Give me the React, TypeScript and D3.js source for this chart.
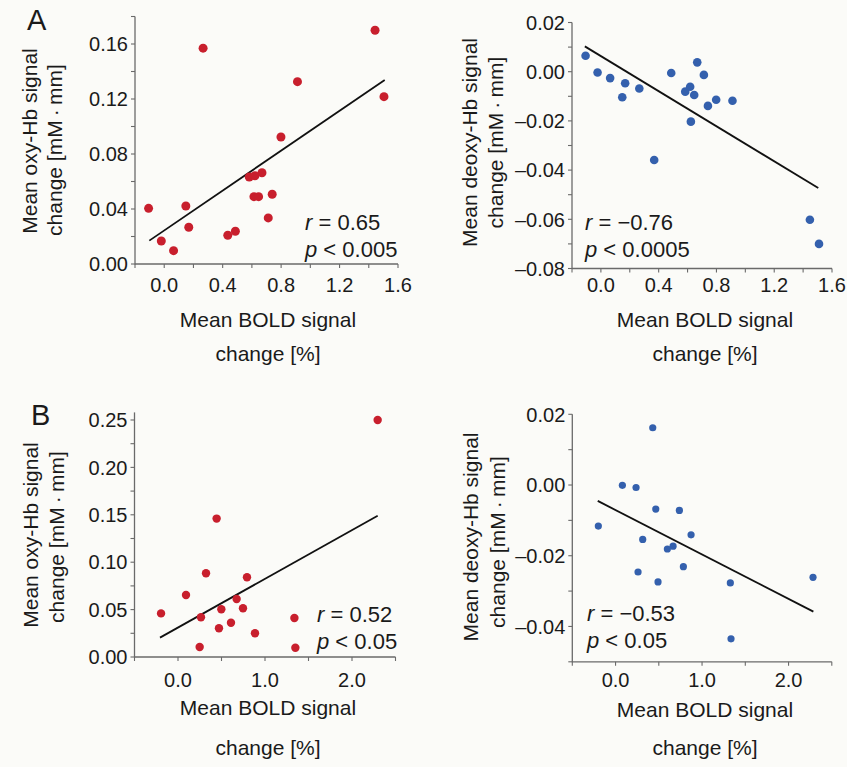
import React from "react";
import * as d3 from "d3";

// ---------- DATA ----------
// Panel A (left): oxy-Hb vs BOLD
const aOxyX = [-0.107, -0.02, 0.064, 0.148, 0.168, 0.266, 0.435, 0.487, 0.582, 0.621, 0.669, 0.614, 0.646, 0.739, 0.712, 0.799, 0.912, 1.443, 1.504];
const aOxyY = [0.0405, 0.0167, 0.0097, 0.0422, 0.0267, 0.157, 0.0209, 0.0238, 0.0633, 0.0642, 0.0664, 0.049, 0.049, 0.0507, 0.0335, 0.0924, 0.1326, 0.170, 0.1217];
const aOxyFitX = [-0.102, 1.509];
const aOxyFitY = [0.017, 0.1338];

// Panel A (right): deoxy-Hb vs BOLD
const aDeoxyX = [-0.106, -0.023, 0.064, 0.148, 0.168, 0.266, 0.369, 0.487, 0.584, 0.618, 0.646, 0.623, 0.667, 0.713, 0.741, 0.798, 0.911, 1.447, 1.51];
const aDeoxyY = [0.0065, -0.0003, -0.0026, -0.0104, -0.0047, -0.0068, -0.0359, -0.0005, -0.0081, -0.0061, -0.0095, -0.0203, 0.0038, -0.0013, -0.0139, -0.0114, -0.0118, -0.0602, -0.070];
const aDeoxyFitX = [-0.111, 1.505];
const aDeoxyFitY = [0.0103, -0.0473];

// Panel B (left): oxy-Hb vs BOLD
const bOxyX = [-0.195, 0.092, 0.249, 0.264, 0.322, 0.444, 0.471, 0.498, 0.609, 0.674, 0.747, 0.793, 0.885, 1.338, 1.349, 2.295];
const bOxyY = [0.046, 0.0654, 0.0106, 0.0419, 0.0883, 0.146, 0.0303, 0.0503, 0.0362, 0.0612, 0.0514, 0.0841, 0.025, 0.0411, 0.0098, 0.25];
const bOxyFitX = [-0.207, 2.295];
const bOxyFitY = [0.0204, 0.149];

// Panel B (right): deoxy-Hb vs BOLD
const bDeoxyX = [-0.199, 0.079, 0.237, 0.43, 0.465, 0.314, 0.26, 0.491, 0.599, 0.665, 0.738, 0.784, 0.873, 1.327, 1.335, 2.283];
const bDeoxyY = [-0.0116, -0.0001, -0.0007, 0.0162, -0.0068, -0.0154, -0.0246, -0.0274, -0.0181, -0.0173, -0.0072, -0.0231, -0.0141, -0.0277, -0.0435, -0.0261];
const bDeoxyFitX = [-0.206, 2.287];
const bDeoxyFitY = [-0.0045, -0.0358];

// Ticks
const xMajorA = [0.0, 0.4, 0.8, 1.2, 1.6];
const xMinorA = [-0.2, 0.0, 0.2, 0.4, 0.6, 0.8, 1.0, 1.2, 1.4, 1.6];
const xMajorB = [0.0, 1.0, 2.0];
const xMinorB = [-0.5, 0.0, 0.5, 1.0, 1.5, 2.0, 2.5];
const yMajorAOxy = [0.0, 0.04, 0.08, 0.12, 0.16];
const yMinorAOxy = [0.0, 0.02, 0.04, 0.06, 0.08, 0.1, 0.12, 0.14, 0.16, 0.18];
const yMajorADeoxy = [-0.08, -0.06, -0.04, -0.02, 0.0, 0.02];
const yMinorADeoxy = [-0.08, -0.07, -0.06, -0.05, -0.04, -0.03, -0.02, -0.01, 0.0, 0.01, 0.02];
const yMajorBOxy = [0.0, 0.05, 0.1, 0.15, 0.2, 0.25];
const yMinorBOxy = [0.0, 0.025, 0.05, 0.075, 0.1, 0.125, 0.15, 0.175, 0.2, 0.225, 0.25];
const yMajorBDeoxy = [-0.04, -0.02, 0.0, 0.02];
const yMinorBDeoxy = [-0.05, -0.04, -0.03, -0.02, -0.01, 0.0, 0.01, 0.02];

const statsR = ["0.65", "\u22120.76", "0.52", "\u22120.53"];
const statsP = ["0.005", "0.0005", "0.05", "0.05"];
const yTitle1 = ["Mean oxy-Hb signal", "Mean deoxy-Hb signal", "Mean oxy-Hb signal", "Mean deoxy-Hb signal"];
const yTitle2 = "change [mM\u2009\u00b7\u2009mm]";
const xTitle1 = "Mean BOLD signal";
const xTitle2 = "change [%]";

// ---------- STYLE ----------
const RED = "#c81f2d";
const BLUE = "#3460ad";
const INK = "#1a1a1a";
const AXIS = "#6a6a6a";
const FONT = "'Liberation Sans', Arial, Helvetica, sans-serif";

const fmt = (d: number, p: number) => {
  const s = d3.format(`.${p}f`)(Math.abs(d));
  return d < -1e-9 ? "\u2013" + s : s;
};

type PanelProps = {
  xs: number[]; ys: number[]; fitX: number[]; fitY: number[];
  xDomain: [number, number]; xRange: [number, number];
  yDomain: [number, number]; yRange: [number, number];
  xMajor: number[]; xMinor: number[]; yMajor: number[]; yMinor: number[];
  xDec: number; yDec: number;
  color: string; r: number;
  idx: number;
  statsX: number; statsY: number;
  yT1: [number, number]; yT2: [number, number];
  xTitleX: number; xTitleY1: number; xTitleY2: number;
  xTickY: number;
};

function Panel(p: PanelProps) {
  const x = d3.scaleLinear().domain(p.xDomain).range(p.xRange);
  const y = d3.scaleLinear().domain(p.yDomain).range(p.yRange);
  const x0 = p.xRange[0];
  const y0 = p.yRange[0];
  const line = d3.line<number>().x((_, i) => x(p.fitX[i])).y((d) => y(d));
  return (
    <g>
      {/* axes */}
      <line x1={x0} x2={x0} y1={p.yRange[1]} y2={y0 + 0.5} stroke={AXIS} strokeWidth={1.3} />
      <line x1={x0} x2={p.xRange[1]} y1={y0} y2={y0} stroke={AXIS} strokeWidth={1.3} />
      {p.yMinor.map((v, i) => (
        <line key={"ym" + i} x1={x0 - 4} x2={x0} y1={y(v)} y2={y(v)} stroke={AXIS} strokeWidth={1.1} />
      ))}
      {p.xMinor.map((v, i) => (
        <line key={"xm" + i} x1={x(v)} x2={x(v)} y1={y0} y2={y0 + 4} stroke={AXIS} strokeWidth={1.1} />
      ))}
      {p.yMajor.map((v, i) => (
        <text key={"yl" + i} x={x0 - 7} y={y(v)} dy="0.36em" textAnchor="end" fontSize={20} fill={INK}>
          {fmt(v, p.yDec)}
        </text>
      ))}
      {p.xMajor.map((v, i) => (
        <text key={"xl" + i} x={x(v)} y={p.xTickY} textAnchor="middle" fontSize={20} fill={INK}>
          {fmt(v, p.xDec)}
        </text>
      ))}
      {/* fit line */}
      <path d={line(p.fitY) || ""} stroke="#111" strokeWidth={1.8} fill="none" />
      {/* points */}
      {p.xs.map((v, i) => (
        <circle key={"pt" + i} cx={x(v)} cy={y(p.ys[i])} r={p.r} fill={p.color} />
      ))}
      {/* stats */}
      <text x={p.statsX} y={p.statsY} fontSize={22} fill={INK}>
        <tspan fontStyle="italic">r</tspan> = {statsR[p.idx]}
      </text>
      <text x={p.statsX} y={p.statsY + 27} fontSize={22} fill={INK}>
        <tspan fontStyle="italic">p</tspan> &lt; {statsP[p.idx]}
      </text>
      {/* y title */}
      <text transform={`translate(${p.yT1[0]},${p.yT1[1]}) rotate(-90)`} textAnchor="middle" fontSize={21} fill={INK}>
        {yTitle1[p.idx]}
      </text>
      <text transform={`translate(${p.yT2[0]},${p.yT2[1]}) rotate(-90)`} textAnchor="middle" fontSize={21} fill={INK}>
        {yTitle2}
      </text>
      {/* x title */}
      <text x={p.xTitleX} y={p.xTitleY1} textAnchor="middle" fontSize={21} fill={INK}>{xTitle1}</text>
      <text x={p.xTitleX} y={p.xTitleY2} textAnchor="middle" fontSize={21} fill={INK}>{xTitle2}</text>
    </g>
  );
}

export default function App() {
  return (
    <svg
      width={847}
      height={767}
      style={{ position: "absolute", left: 0, top: 0, background: "#fbfbf8", fontFamily: FONT }}
    >
      <rect x={0} y={0} width={847} height={767} fill="#fbfbf8" />
      <text x={27} y={30} fontSize={29} fill={INK}>A</text>
      <text x={31} y={425} fontSize={29} fill={INK}>B</text>

      <Panel
        idx={0} xs={aOxyX} ys={aOxyY} fitX={aOxyFitX} fitY={aOxyFitY}
        xDomain={[-0.2, 1.6]} xRange={[135, 398]} yDomain={[0, 0.18]} yRange={[264, 16.5]}
        xMajor={xMajorA} xMinor={xMinorA} yMajor={yMajorAOxy} yMinor={yMinorAOxy}
        xDec={1} yDec={2} color={RED} r={4.5}
        statsX={305} statsY={230}
        yT1={[37, 141]} yT2={[62, 150]}
        xTitleX={268} xTitleY1={327} xTitleY2={361} xTickY={292}
      />
      <Panel
        idx={1} xs={aDeoxyX} ys={aDeoxyY} fitX={aDeoxyFitX} fitY={aDeoxyFitY}
        xDomain={[-0.2, 1.6]} xRange={[572, 832]} yDomain={[-0.08, 0.02]} yRange={[268.5, 22.5]}
        xMajor={xMajorA} xMinor={xMinorA} yMajor={yMajorADeoxy} yMinor={yMinorADeoxy}
        xDec={1} yDec={2} color={BLUE} r={4.3}
        statsX={585} statsY={230}
        yT1={[477, 142.5]} yT2={[503, 142.5]}
        xTitleX={705} xTitleY1={327} xTitleY2={361} xTickY={292}
      />
      <Panel
        idx={2} xs={bOxyX} ys={bOxyY} fitX={bOxyFitX} fitY={bOxyFitY}
        xDomain={[-0.5, 2.5]} xRange={[134.5, 395.5]} yDomain={[0, 0.258]} yRange={[657, 412.4]}
        xMajor={xMajorB} xMinor={xMinorB} yMajor={yMajorBOxy} yMinor={yMinorBOxy}
        xDec={1} yDec={2} color={RED} r={4.2}
        statsX={317} statsY={622}
        yT1={[38, 535]} yT2={[64, 537]}
        xTitleX={268} xTitleY1={715} xTitleY2={755} xTickY={687}
      />
      <Panel
        idx={3} xs={bDeoxyX} ys={bDeoxyY} fitX={bDeoxyFitX} fitY={bDeoxyFitY}
        xDomain={[-0.5, 2.5]} xRange={[572.3, 831.8]} yDomain={[-0.05, 0.02]} yRange={[661.8, 414.3]}
        xMajor={xMajorB} xMinor={xMinorB} yMajor={yMajorBDeoxy} yMinor={yMinorBDeoxy}
        xDec={1} yDec={2} color={BLUE} r={3.6}
        statsX={587} statsY={621}
        yT1={[478, 537]} yT2={[505, 542]}
        xTitleX={705} xTitleY1={717} xTitleY2={755} xTickY={687}
      />
    </svg>
  );
}
